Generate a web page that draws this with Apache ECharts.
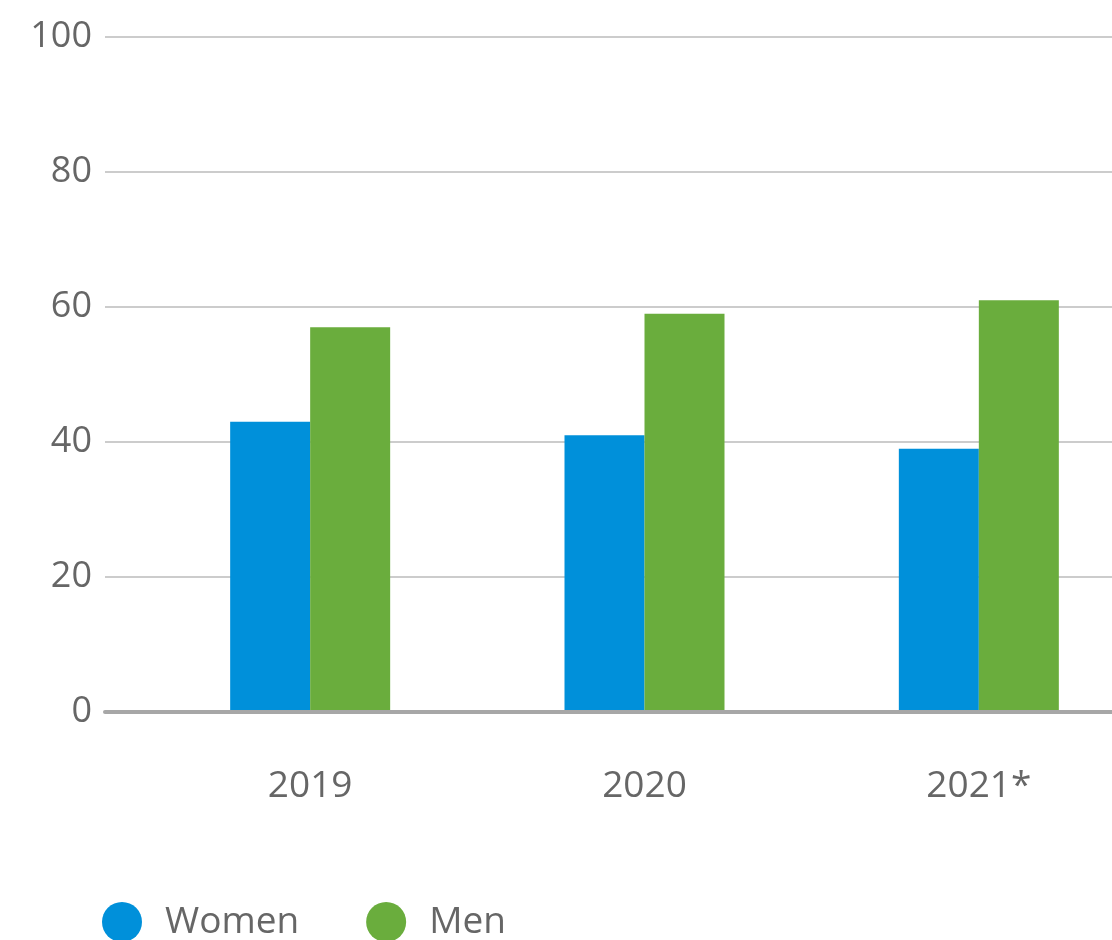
<!DOCTYPE html>
<html>
<head>
<meta charset="utf-8">
<script src="https://cdn.jsdelivr.net/npm/echarts@6/dist/echarts.min.js"></script>
<style>
html,body{margin:0;padding:0;background:#fff;}
#chart{width:1112px;height:940px;}
</style>
</head>
<body>
<div id="chart"></div>
<script>
const categories = ['2019', '2020', '2021*'];
const women = [43, 41, 39];
const men = [57, 59, 61];
const yTicks = { min: 0, max: 100, interval: 20 };

const font = 'Open Sans';
const chart = echarts.init(document.getElementById('chart'));
chart.setOption({
  animation: false,
  textStyle: { fontFamily: font },
  grid: [
    { left: 105, right: 0, top: 37, bottom: 228, outerBoundsMode: 'none' },
    { left: 143, width: 1003, top: 37, bottom: 228, outerBoundsMode: 'none' }
  ],
  xAxis: [
    {
      gridIndex: 0, type: 'category', data: categories, z: 5,
      axisLine: { show: true, lineStyle: { color: '#a7a7a7', width: 4, cap: 'round' } },
      axisTick: { show: false }, axisLabel: { show: false }, splitLine: { show: false }
    },
    {
      gridIndex: 1, type: 'category', data: categories,
      axisLine: { show: false }, axisTick: { show: false },
      axisLabel: { color: '#666666', fontSize: 37, fontFamily: font, margin: 56 }
    }
  ],
  yAxis: [
    {
      gridIndex: 0, type: 'value', min: yTicks.min, max: yTicks.max, interval: yTicks.interval,
      axisLine: { show: false }, axisTick: { show: false },
      axisLabel: { color: '#666666', fontSize: 36, fontFamily: font, margin: 13 },
      splitLine: { lineStyle: { color: '#bbbbbb', width: 1.5 } }
    },
    {
      gridIndex: 1, type: 'value', min: yTicks.min, max: yTicks.max, interval: yTicks.interval,
      show: false, splitLine: { show: false }
    }
  ],
  legend: {
    left: 102, top: 902, padding: 0,
    icon: 'circle', itemWidth: 40, itemHeight: 40, itemGap: 67,
    textStyle: { color: '#666666', fontSize: 37, fontFamily: font, padding: [0, 0, 0, 18] },
    data: ['Women', 'Men']
  },
  series: [
    {
      name: 'Women', type: 'bar', xAxisIndex: 1, yAxisIndex: 1,
      data: women, barWidth: 80, barGap: '0%',
      itemStyle: { color: '#0090da' }
    },
    {
      name: 'Men', type: 'bar', xAxisIndex: 1, yAxisIndex: 1,
      data: men, barWidth: 80, barGap: '0%',
      itemStyle: { color: '#6aad3d' }
    }
  ]
});
</script>
</body>
</html>
